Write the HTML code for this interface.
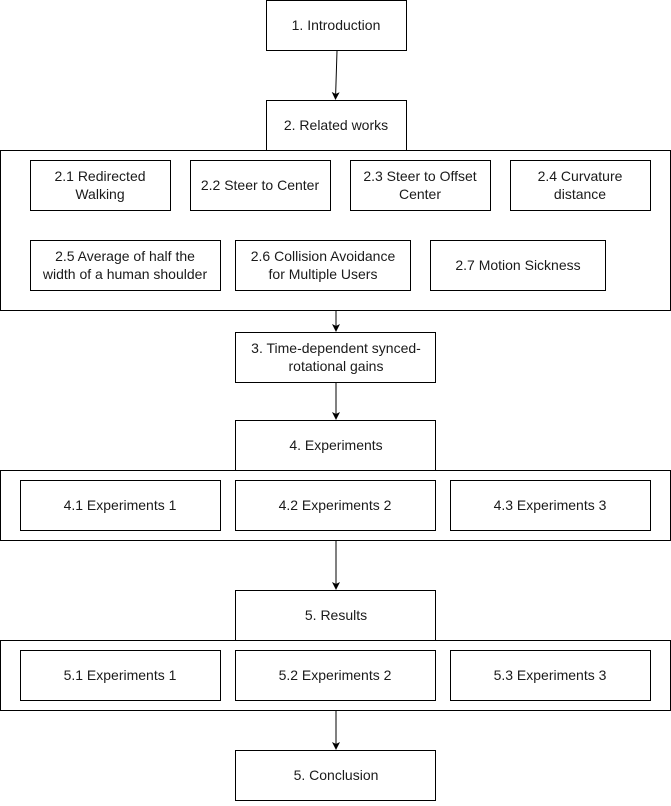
<!DOCTYPE html>
<html><head><meta charset="utf-8"><style>
html,body{margin:0;padding:0;background:#fff;}
svg text{font-family:"Liberation Sans",Arial,sans-serif;font-size:14px;fill:#1a1a1a;}
</style></head><body>
<svg width="671" height="801" viewBox="0 0 671 801" xmlns="http://www.w3.org/2000/svg">
<defs><marker id="a" markerWidth="8" markerHeight="8" refX="7" refY="4" orient="auto" markerUnits="userSpaceOnUse"><path d="M0,0 L8,4 L0,8 L2,4 z" fill="#000"/></marker></defs>
<g fill="#fff" stroke="#000" stroke-width="1">
<rect x="266.5" y="0.5" width="140" height="50"/>
<rect x="266.5" y="100.5" width="140" height="50"/>
<rect x="0.5" y="150.5" width="670" height="160"/>
<rect x="30.5" y="160.5" width="140" height="50"/>
<rect x="190.5" y="160.5" width="140" height="50"/>
<rect x="350.5" y="160.5" width="140" height="50"/>
<rect x="510.5" y="160.5" width="140" height="50"/>
<rect x="30.5" y="240.5" width="190" height="50"/>
<rect x="235.5" y="240.5" width="175" height="50"/>
<rect x="430.5" y="240.5" width="175" height="50"/>
<rect x="235.5" y="332.5" width="200" height="50"/>
<rect x="235.5" y="420.5" width="200" height="50"/>
<rect x="0.5" y="470.5" width="670" height="70"/>
<rect x="20.5" y="480.5" width="200" height="50"/>
<rect x="235.5" y="480.5" width="200" height="50"/>
<rect x="450.5" y="480.5" width="200" height="50"/>
<rect x="235.5" y="590.5" width="200" height="50"/>
<rect x="0.5" y="640.5" width="670" height="70"/>
<rect x="20.5" y="650.5" width="200" height="50"/>
<rect x="235.5" y="650.5" width="200" height="50"/>
<rect x="450.5" y="650.5" width="200" height="50"/>
<rect x="235.5" y="750.5" width="200" height="50"/>
</g>
<g stroke="#000" stroke-width="1" marker-end="url(#a)">
<line x1="337" y1="51" x2="335.5" y2="99"/>
<line x1="336" y1="311" x2="336" y2="331"/>
<line x1="336" y1="383" x2="336" y2="419"/>
<line x1="336" y1="541" x2="336" y2="589"/>
<line x1="336" y1="711" x2="336" y2="749"/>
</g>
<g text-anchor="middle">
<text x="336" y="30">1. Introduction</text>
<text x="336" y="130">2. Related works</text>
<text x="100" y="181">2.1 Redirected</text><text x="100" y="199">Walking</text>
<text x="260" y="190">2.2 Steer to Center</text>
<text x="420" y="181">2.3 Steer to Offset</text><text x="420" y="199">Center</text>
<text x="580" y="181">2.4 Curvature</text><text x="580" y="199">distance</text>
<text x="125" y="261">2.5 Average of half the</text><text x="125" y="279">width of a human shoulder</text>
<text x="323" y="261">2.6 Collision Avoidance</text><text x="323" y="279">for Multiple Users</text>
<text x="518" y="270">2.7 Motion Sickness</text>
<text x="336" y="353">3. Time-dependent synced-</text><text x="336" y="371">rotational gains</text>
<text x="336" y="450">4. Experiments</text>
<text x="120" y="510">4.1 Experiments 1</text>
<text x="335" y="510">4.2 Experiments 2</text>
<text x="550" y="510">4.3 Experiments 3</text>
<text x="336" y="620">5. Results</text>
<text x="120" y="680">5.1 Experiments 1</text>
<text x="335" y="680">5.2 Experiments 2</text>
<text x="550" y="680">5.3 Experiments 3</text>
<text x="336" y="780">5. Conclusion</text>
</g>
</svg>
</body></html>
